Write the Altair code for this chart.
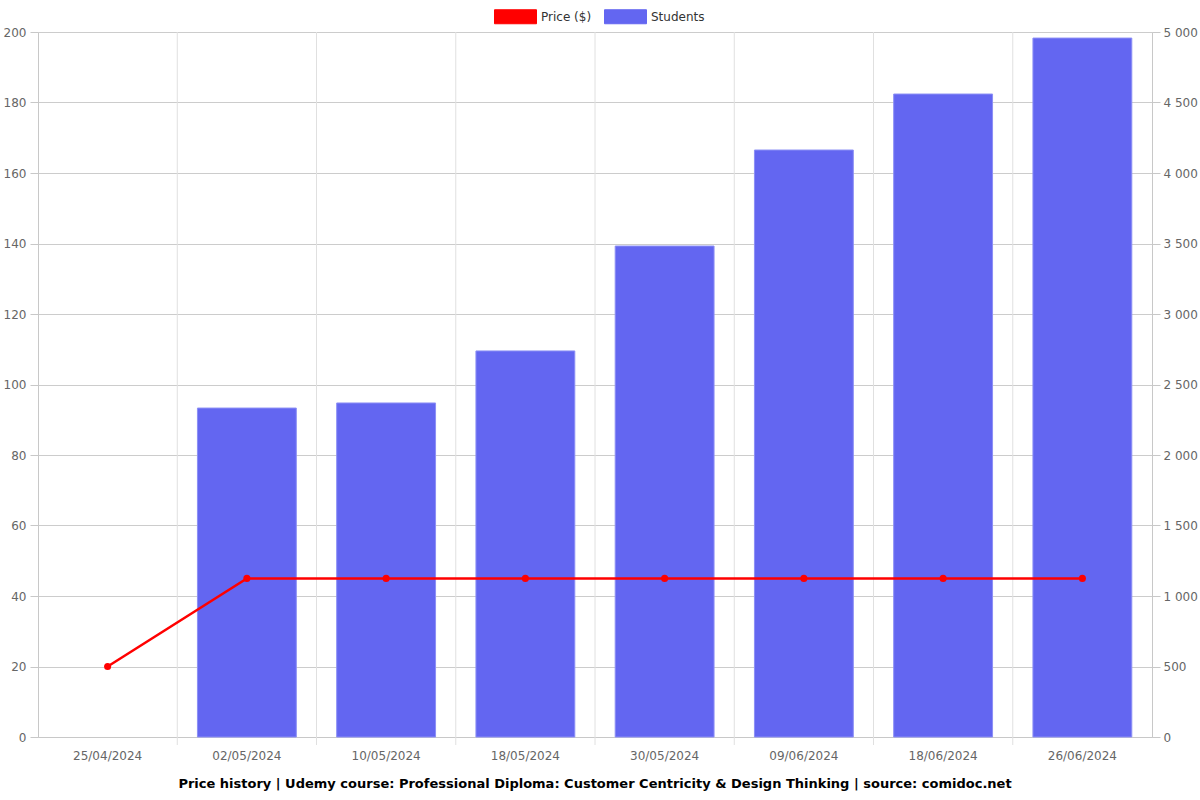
import altair as alt
import pandas as pd

dates = ["25/04/2024", "02/05/2024", "10/05/2024", "18/05/2024",
         "30/05/2024", "09/06/2024", "18/06/2024", "26/06/2024"]
prices = [20, 44.99, 44.99, 44.99, 44.99, 44.99, 44.99, 44.99]
students = [None, 2333, 2369, 2738, 3482, 4163, 4560, 4957]

df = pd.DataFrame({"date": dates, "price": prices, "students": students})
df["s_label"] = "Students"
df["p_label"] = "Price ($)"

FONT = "DejaVu Sans"
W, H = 1114, 705

color_scale = alt.Scale(domain=["Price ($)", "Students"], range=["#ff0000", "#6366f1"])
xscale = alt.Scale(paddingInner=0, paddingOuter=0)

xaxis = alt.Axis(title=None, labelAngle=0, labelColor="#666666", labelFontSize=12,
                 labelFont=FONT, grid=False, ticks=False, domainColor="#c8c8c8",
                 labelPadding=13)

legend = alt.Legend(title=None, orient="none", direction="horizontal",
                    legendX=463, legendY=-30,
                    symbolType="M-1.5,-0.5L1.5,-0.5L1.5,0.5L-1.5,0.5Z",
                    symbolSize=784, symbolStrokeWidth=1, labelOffset=11,
                    columnPadding=10,
                    labelFont=FONT, labelFontSize=12, labelColor="#333333",
                    values=["Price ($)", "Students"])

vgrid = alt.Chart(pd.DataFrame({"date": dates[1:]})).mark_rule(
    color="#e0e0e0", strokeWidth=1
).encode(
    x=alt.X("date:N", sort=dates, scale=xscale, bandPosition=0, axis=xaxis),
    y=alt.value(0), y2=alt.value(H + 8),
)

bars = alt.Chart(df).transform_filter("datum.students != null").mark_bar(
    width=alt.RelativeBandSize(0.71), stroke="#8c8ff5", strokeWidth=1
).encode(
    x=alt.X("date:N", sort=dates, scale=xscale, axis=xaxis),
    y=alt.Y("students:Q", scale=alt.Scale(domain=[0, 5000], nice=False),
            axis=alt.Axis(title=None, orient="right", values=list(range(0, 5001, 500)),
                          labelExpr="replace(format(datum.value, ','), ',', ' ')",
                          labelColor="#666666", labelFontSize=12, labelFont=FONT,
                          labelOverlap=False,
                          grid=False, tickColor="#c8c8c8", domainColor="#c8c8c8",
                          tickSize=8, labelPadding=3)),
    color=alt.Color("s_label:N", scale=color_scale, legend=legend),
)

line = alt.Chart(df).mark_line(
    strokeWidth=2.5, point=alt.OverlayMarkDef(filled=True, size=50, color="#ff0000")
).encode(
    x=alt.X("date:N", sort=dates, scale=xscale, axis=xaxis),
    y=alt.Y("price:Q", scale=alt.Scale(domain=[0, 200], nice=False),
            axis=alt.Axis(title=None, orient="left", values=list(range(0, 201, 20)),
                          labelColor="#666666", labelFontSize=12, labelFont=FONT,
                          labelOverlap=False,
                          grid=True, gridColor="#cccccc", tickColor="#c8c8c8",
                          domainColor="#c8c8c8", tickSize=8, labelPadding=4)),
    color=alt.Color("p_label:N", scale=color_scale, legend=legend),
)

chart = alt.layer(vgrid, bars, line).resolve_scale(y="independent").properties(
    width=W, height=H,
    title=alt.TitleParams(
        "Price history | Udemy course: Professional Diploma: Customer Centricity & Design Thinking | source: comidoc.net",
        orient="bottom", font=FONT, fontSize=13, fontWeight="bold", color="#000000", offset=17),
).configure_view(stroke=None).configure(padding={"left": 3, "right": 0, "top": 2, "bottom": 5})

chart.save("out.html", embed_options={"renderer": "svg", "actions": False})
